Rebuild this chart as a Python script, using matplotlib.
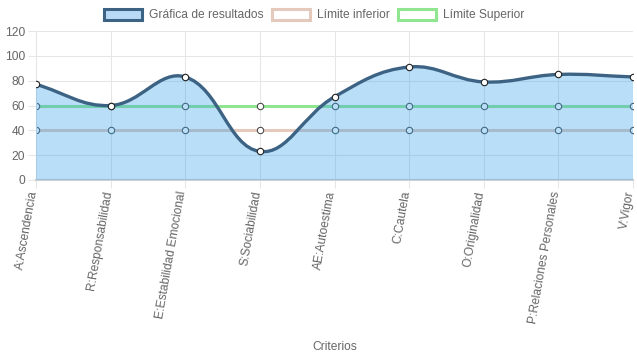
import matplotlib
matplotlib.use("Agg")
import matplotlib.pyplot as plt
import numpy as np
from matplotlib.path import Path
from matplotlib.patches import PathPatch, Patch
import matplotlib.transforms as mtransforms

categories = ["A:Ascendencia", "R:Responsabilidad", "E:Estabilidad Emocional",
              "S:Sociabilidad", "AE:Autoestima", "C:Cautela", "O:Originalidad",
              "P:Relaciones Personales", "V:Vigor"]
resultados = [77, 60, 83, 23, 67, 91, 79, 85, 83]
limite_inferior = [40, 40, 40, 40, 40, 40, 40, 40, 40]
limite_superior = [60, 60, 60, 60, 60, 60, 60, 60, 60]
y_ticks = [0, 20, 40, 60, 80, 100, 120]

plt.rcParams['font.family'] = ['Liberation Sans', 'DejaVu Sans']
FS = 8.64
TXT = '#666666'

W, H = 637, 359
fig = plt.figure(figsize=(W / 100, H / 100), dpi=100)
ax = fig.add_axes([36 / W, 179 / H, (633 - 36) / W, (180 - 31) / H])
n = len(categories)
x = np.arange(n)
ax.set_xlim(0, n - 1)
ax.set_ylim(0, 120)

blue_line = '#3d6384'
blue_fill = (54 / 255, 162 / 255, 235 / 255, 0.35)
low_c = '#e6c9bd'
up_c = '#90e690'

# limit lines (below)
ax.plot(x, limite_superior, color=up_c, lw=2.2, zorder=2, solid_capstyle='butt')
ax.plot(x, limite_inferior, color=low_c, lw=2.2, zorder=2, solid_capstyle='butt')
for vals in (limite_superior, limite_inferior):
    ax.plot(x, vals, 'o', ms=4.6, mfc='white', mec='#444444', mew=0.75, zorder=2.5,
            linestyle='none')

# Chart.js style spline for results
pts = ax.transData.transform(np.column_stack([x, resultados]))
t = 0.4
cps = []
for i in range(n):
    cur = pts[i]
    prev = pts[i - 1] if i > 0 else cur
    nxt = pts[i + 1] if i < n - 1 else cur
    d01 = np.hypot(*(cur - prev))
    d12 = np.hypot(*(nxt - cur))
    tot = d01 + d12
    s01 = d01 / tot if tot else 0
    s12 = d12 / tot if tot else 0
    fa, fb = t * s01, t * s12
    cp_prev = cur - fa * (nxt - prev)
    cp_next = cur + fb * (nxt - prev)
    cps.append((cp_prev, cp_next))

verts = [pts[0]]
codes = [Path.MOVETO]
for i in range(n - 1):
    verts += [cps[i][1], cps[i + 1][0], pts[i + 1]]
    codes += [Path.CURVE4] * 3
verts = np.array(verts)
inv = ax.transData.inverted()
vd = inv.transform(verts)

line_path = Path(vd, codes)
fill_verts = np.vstack([vd, [[n - 1, 0], [0, 0], vd[0]]])
fill_codes = codes + [Path.LINETO, Path.LINETO, Path.CLOSEPOLY]
ax.add_patch(PathPatch(Path(fill_verts, fill_codes), facecolor=blue_fill,
                       edgecolor='none', zorder=3))
ax.add_patch(PathPatch(line_path, facecolor='none', edgecolor=blue_line, lw=2.4,
                       zorder=4, capstyle='round', joinstyle='round'))
ax.plot(x, resultados, 'o', ms=4.6, mfc='white', mec='#222222', mew=0.8, zorder=5,
        linestyle='none')

# grid / axes
ax.set_yticks(y_ticks)
ax.set_yticklabels([str(v) for v in y_ticks], fontsize=FS, color=TXT)
ax.set_xticks(x)
ax.set_xticklabels([])
offset = mtransforms.ScaledTranslation(-2.5 / 100, -11 / 100, fig.dpi_scale_trans)
for xi, lab in zip(x, categories):
    ax.text(xi, 0, lab, transform=ax.get_xaxis_transform() + offset,
            fontsize=FS, color=TXT, rotation=80, ha='right', va='center',
            rotation_mode='anchor', clip_on=False)
ax.grid(True, color='#e6e6e6', lw=0.75, zorder=0)
ax.set_axisbelow(True)
for s in ('top', 'right'):
    ax.spines[s].set_visible(False)
ax.spines['left'].set_color('#e6e6e6')
ax.spines['left'].set_linewidth(0.75)
ax.spines['bottom'].set_color('#d0d0d0')
ax.spines['bottom'].set_linewidth(1.5)
ax.tick_params(axis='both', length=6, width=0.75, color='#e6e6e6', pad=2)

fig.text(334.5 / W, 1 - 347 / H, 'Criterios', fontsize=FS, color=TXT,
         ha='center', va='center')

handles = [Patch(facecolor=(184/255, 218/255, 246/255), edgecolor=blue_line, lw=2.2),
           Patch(facecolor='white', edgecolor=low_c, lw=2.2),
           Patch(facecolor='white', edgecolor=up_c, lw=2.2)]
fig.legend(handles, ['Gráfica de resultados', 'Límite inferior', 'Límite Superior'],
           loc='center', bbox_to_anchor=(314 / W, 1 - 15 / H), ncol=3, frameon=False,
           fontsize=FS, labelcolor=TXT, handlelength=3.2, handleheight=1.0,
           handletextpad=0.55, columnspacing=0.7, borderpad=0)

fig.savefig('out.png', dpi=100)
